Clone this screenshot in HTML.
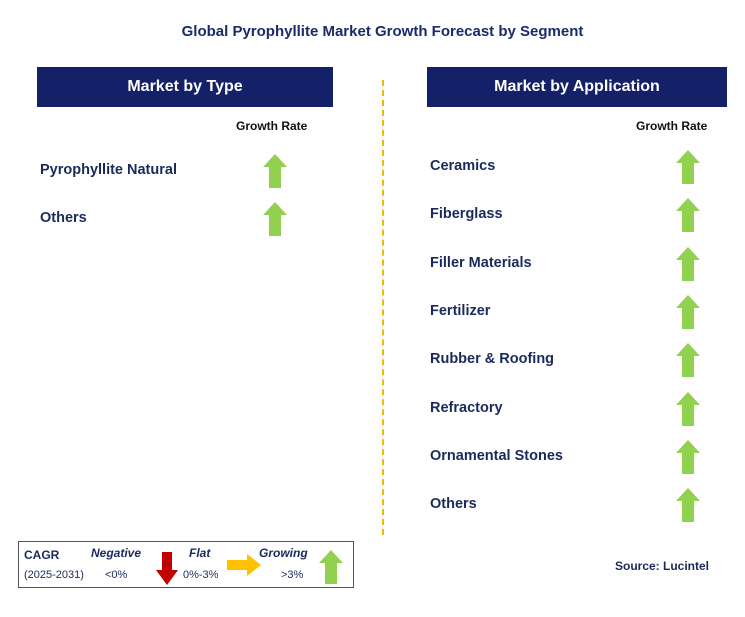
<!DOCTYPE html>
<html><head><meta charset="utf-8"><style>
body{margin:0;width:745px;height:617px;background:#fff;position:relative;font-family:"Liberation Sans",Arial,sans-serif;overflow:hidden}
.a{position:absolute}
.title{left:0;width:765px;top:23px;text-align:center;font-weight:bold;font-size:15px;color:#1a2a6c}
.hdr{background:#142068;color:#fff;font-weight:bold;font-size:16px;text-align:center;line-height:40px;height:40px;top:67px}
.gr{font-weight:bold;font-size:12px;color:#111;top:119px}
.lbl{font-weight:bold;font-size:14.5px;color:#1a2a5c}
.up{width:24px;height:34px}
</style></head><body>
<div class="a title">Global Pyrophyllite Market Growth Forecast by Segment</div>
<div class="a hdr" style="left:37px;width:296px">Market by Type</div>
<div class="a hdr" style="left:427px;width:300px">Market by Application</div>
<div class="a gr" style="left:236px">Growth Rate</div>
<div class="a gr" style="left:636px">Growth Rate</div>
<div class="a" style="left:382px;top:80px;height:455px;border-left:2px dashed #f5b800"></div>
<div id="rows"></div>
<div class="a" style="left:18px;top:541px;width:334px;height:45px;border:1px solid #555">
<div class="a" style="left:5px;top:6px;font-weight:bold;font-size:12px;color:#1a2a5c">CAGR</div>
<div class="a" style="left:5px;top:27px;font-size:11px;color:#1a2a5c">(2025-2031)</div>
<div class="a" style="left:72px;top:4px;font-weight:bold;font-style:italic;font-size:12px;color:#1a2a5c">Negative</div>
<div class="a" style="left:86px;top:27px;font-size:11px;color:#1a2a5c">&lt;0%</div>
<svg class="a" style="left:137px;top:10px" width="22" height="33"><polygon points="6,0 16,0 16,18 22,18 11,33 0,18 6,18" fill="#c00000"/></svg>
<div class="a" style="left:170px;top:4px;font-weight:bold;font-style:italic;font-size:12px;color:#1a2a5c">Flat</div>
<div class="a" style="left:164px;top:27px;font-size:11px;color:#1a2a5c">0%-3%</div>
<svg class="a" style="left:208px;top:12px" width="34" height="22"><polygon points="0,6 20,6 20,0 34,11 20,22 20,16 0,16" fill="#ffc000"/></svg>
<div class="a" style="left:240px;top:4px;font-weight:bold;font-style:italic;font-size:12px;color:#1a2a5c">Growing</div>
<div class="a" style="left:262px;top:27px;font-size:11px;color:#1a2a5c">&gt;3%</div>
<svg class="a" style="left:300px;top:8px" width="24" height="34"><polygon points="12,0 24,13 18,13 18,34 6,34 6,13 0,13" fill="#92d050"/></svg>
</div>
<div class="a" style="left:615px;top:559px;font-weight:bold;font-size:12px;color:#1a2a5c">Source: Lucintel</div>
<script>
const typeCats=["Pyrophyllite Natural","Others"];
const appCats=["Ceramics","Fiberglass","Filler Materials","Fertilizer","Rubber & Roofing","Refractory","Ornamental Stones","Others"];
const rows=document.getElementById('rows');
function add(cats,lx,ax,y0,step,prefix){
cats.forEach((c,i)=>{const y=y0+i*step;
const d=document.createElement('div');d.className='a lbl';d.style.left=lx+'px';d.style.top=(y-9)+'px';d.textContent=c;


rows.appendChild(d);
const s=document.createElementNS('http://www.w3.org/2000/svg','svg');s.setAttribute('class','a up');s.setAttribute('width','24');s.setAttribute('height','34');s.style.left=ax+'px';s.style.top=(y-17)+'px';
s.innerHTML='<polygon points="12,0 24,13 18,13 18,34 6,34 6,13 0,13" fill="#92d050"/>';


rows.appendChild(s);});}
add(typeCats,40,263,171,48,'type');
add(appCats,430,676,167,48.3,'application');
</script>
</body></html>
